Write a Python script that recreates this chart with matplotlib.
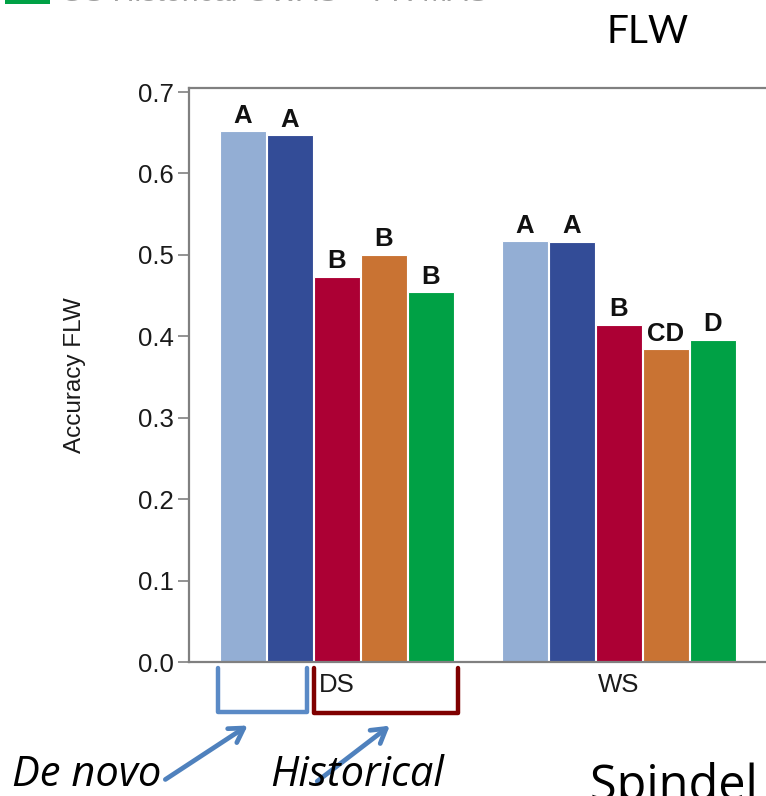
import matplotlib
matplotlib.use("Agg")
import matplotlib.pyplot as plt
from matplotlib.patches import FancyArrowPatch, Rectangle
from matplotlib.lines import Line2D

# Accuracy for flag-leaf width by environment and model
environments = ["DS", "WS"]
models = ["GS de novo", "GS de novo + FR", "GS historical", "GS historical + FR", "GS historical GWAS + FR MAS"]
ds_accuracy = [0.652, 0.647, 0.473, 0.500, 0.454]
ws_accuracy = [0.517, 0.516, 0.414, 0.384, 0.396]
ds_letters = ["A", "A", "B", "B", "B"]
ws_letters = ["A", "A", "B", "CD", "D"]
colors = ["#93AED4", "#334C97", "#AC0034", "#C97333", "#00A145"]

W, H = 766, 796
fig = plt.figure(figsize=(W / 100, H / 100), dpi=100)
plt.rcParams["font.family"] = ["Liberation Sans", "DejaVu Sans"]


def fx(x):
    return x / W


def fy(y):
    return 1 - y / H


# axes frame runs past the right edge of the figure
x_lo, x_hi = -1.15, 12.15
bar_px = 47.0
ax_left, ax_top, ax_bottom = 189, 88, 662
ax_w_px = (x_hi - x_lo) * bar_px
ax = fig.add_axes([fx(ax_left), fy(ax_bottom), ax_w_px / W, (ax_bottom - ax_top) / H])

group_start = [0, 6]
for g, (vals, letters) in enumerate([(ds_accuracy, ds_letters), (ws_accuracy, ws_letters)]):
    xs = [group_start[g] + i for i in range(len(vals))]
    bars = ax.bar(xs, vals, width=0.98, color=colors, edgecolor="white", linewidth=0.8, zorder=2)
    for b, v, lab in zip(bars, vals, letters):
        ax.annotate(lab, (b.get_x() + b.get_width() / 2, v), xytext=(0, 2.5),
                    textcoords="offset points", ha="center", va="bottom",
                    fontsize=18.5, fontweight="bold", color="#111111")

ax.set_xlim(x_lo, x_hi)
ax.set_ylim(0, 0.705)
ax.set_yticks([0.0, 0.1, 0.2, 0.3, 0.4, 0.5, 0.6, 0.7])
ax.set_yticklabels(["0.0", "0.1", "0.2", "0.3", "0.4", "0.5", "0.6", "0.7"])
ax.set_xticks([group_start[0] + 2, group_start[1] + 2])
ax.set_xticklabels(environments)
ax.tick_params(axis="y", direction="out", length=8, width=1.2, color="#808080",
               labelsize=18.5, labelcolor="#1a1a1a", pad=3)
ax.tick_params(axis="x", length=0, labelsize=18.5, labelcolor="#1a1a1a", pad=8)
for side in ["left", "bottom", "top", "right"]:
    ax.spines[side].set_color("#808080")
    ax.spines[side].set_linewidth(1.6)
ax.set_ylabel("Accuracy FLW", fontsize=17.5, color="#1a1a1a")
ax.yaxis.set_label_coords((86 - ax_left) / ax_w_px, 0.5)

# slide annotations
fig.text(fx(648), fy(32), "FLW", fontsize=28, family=["Lato", "DejaVu Sans"],
         ha="center", va="center", color="black")

# legend entry peeking in at the top edge
fig.patches.append(Rectangle((fx(5), fy(4)), fx(45), 4 / H + 0.02, transform=fig.transFigure,
                             facecolor="#00A145", edgecolor="none"))
fig.text(fx(60), fy(1), "GS Historical GWAS + FR MAS", fontsize=22, color="#a0a0a0",
         ha="left", va="baseline")


def bracket(x0, x1, y0, y1, color):
    fig.lines.append(Line2D([fx(x0), fx(x0), fx(x1), fx(x1)],
                            [fy(y0), fy(y1), fy(y1), fy(y0)],
                            transform=fig.transFigure, color=color, linewidth=3.2,
                            solid_joinstyle="round", solid_capstyle="round"))


bracket(218, 307, 668, 712, "#5A8AC6")
bracket(314, 458, 668, 713, "#7F0000")


def arrow(x0, y0, x1, y1):
    fig.patches.append(FancyArrowPatch((fx(x0), fy(y0)), (fx(x1), fy(y1)),
                                       transform=fig.transFigure,
                                       arrowstyle="->,head_length=10,head_width=6",
                                       color="#4F81BD", linewidth=3.4, mutation_scale=1))


arrow(163, 781, 250, 724)
arrow(315, 783, 392, 724)

fig.text(fx(12), fy(786), "De novo", fontsize=30, style="italic",
         family=["Open Sans", "DejaVu Sans"], ha="left", va="baseline", color="black")
fig.text(fx(270), fy(786), "Historical", fontsize=30, style="italic",
         family=["Open Sans", "DejaVu Sans"], ha="left", va="baseline", color="black")
fig.text(fx(590), fy(800), "Spindel et al.", fontsize=35,
         family=["Open Sans", "DejaVu Sans"], ha="left", va="baseline", color="black")

fig.savefig("out.png", dpi=100)
